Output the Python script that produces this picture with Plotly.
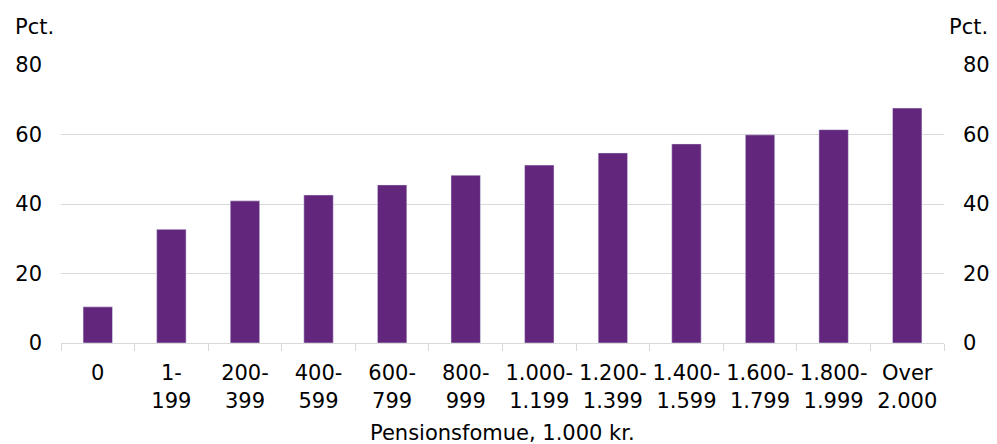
import plotly.graph_objects as go

categories = ["0", "1-<br>199", "200-<br>399", "400-<br>599", "600-<br>799", "800-<br>999",
              "1.000-<br>1.199", "1.200-<br>1.399", "1.400-<br>1.599", "1.600-<br>1.799",
              "1.800-<br>1.999", "Over<br>2.000"]
values = [10.4, 32.7, 40.9, 42.6, 45.5, 48.3, 51.2, 54.7, 57.3, 59.9, 61.4, 67.6]
y_ticks = [0, 20, 40, 60, 80]
x_title = "Pensionsfomue, 1.000 kr."
y_unit = "Pct."

FONT = "DejaVu Sans"
FS = 21
PURPLE = "#62267d"
GRID = "#d9d9d9"

fig = go.Figure()
fig.add_trace(go.Bar(x=categories, y=values, marker=dict(color=PURPLE, line=dict(width=0)),
                     showlegend=False, hoverinfo="skip"))
fig.add_trace(go.Bar(x=categories, y=values, yaxis="y2", marker=dict(color="rgba(0,0,0,0)"),
                     showlegend=False, hoverinfo="skip"))

fig.update_layout(
    width=997, height=444,
    margin=dict(l=61, r=53, t=65, b=101, autoexpand=False),
    paper_bgcolor="white", plot_bgcolor="white",
    font=dict(family=FONT, size=FS, color="#000000"),
    bargap=0.6, barmode="overlay",
    xaxis=dict(type="category", showline=True, linecolor=GRID, linewidth=1, automargin=False,
               ticks="outside", tickson="boundaries", ticklen=7, tickcolor=GRID, tickwidth=1,
               tickangle=0, ticklabelstandoff=11, showgrid=False,
               tickfont=dict(family=FONT, size=FS)),
    yaxis=dict(range=[0, 80], tickvals=y_ticks, showgrid=True, gridcolor=GRID, gridwidth=1,
               zeroline=False, showline=False, ticks="", ticklabelstandoff=18, automargin=False,
               tickfont=dict(family=FONT, size=FS)),
    yaxis2=dict(range=[0, 80], tickvals=y_ticks, overlaying="y", side="right", showgrid=False,
                zeroline=False, showline=False, ticks="", ticklabelstandoff=18, automargin=False,
                tickfont=dict(family=FONT, size=FS)),
    annotations=[
        dict(text=y_unit, xref="paper", yref="paper", x=-0.0544, y=1.137, xanchor="left",
             yanchor="middle", showarrow=False, font=dict(family=FONT, size=FS)),
        dict(text=y_unit, xref="paper", yref="paper", x=1.052, y=1.137, xanchor="right",
             yanchor="middle", showarrow=False, font=dict(family=FONT, size=FS)),
        dict(text=x_title, xref="paper", yref="paper", x=0.5, y=-0.324, xanchor="center",
             yanchor="middle", showarrow=False, font=dict(family=FONT, size=FS)),
    ],
)

fig.write_html("out.html", config={"displayModeBar": False},
               post_script="document.body.style.margin='0';document.body.style.overflow='hidden';")
